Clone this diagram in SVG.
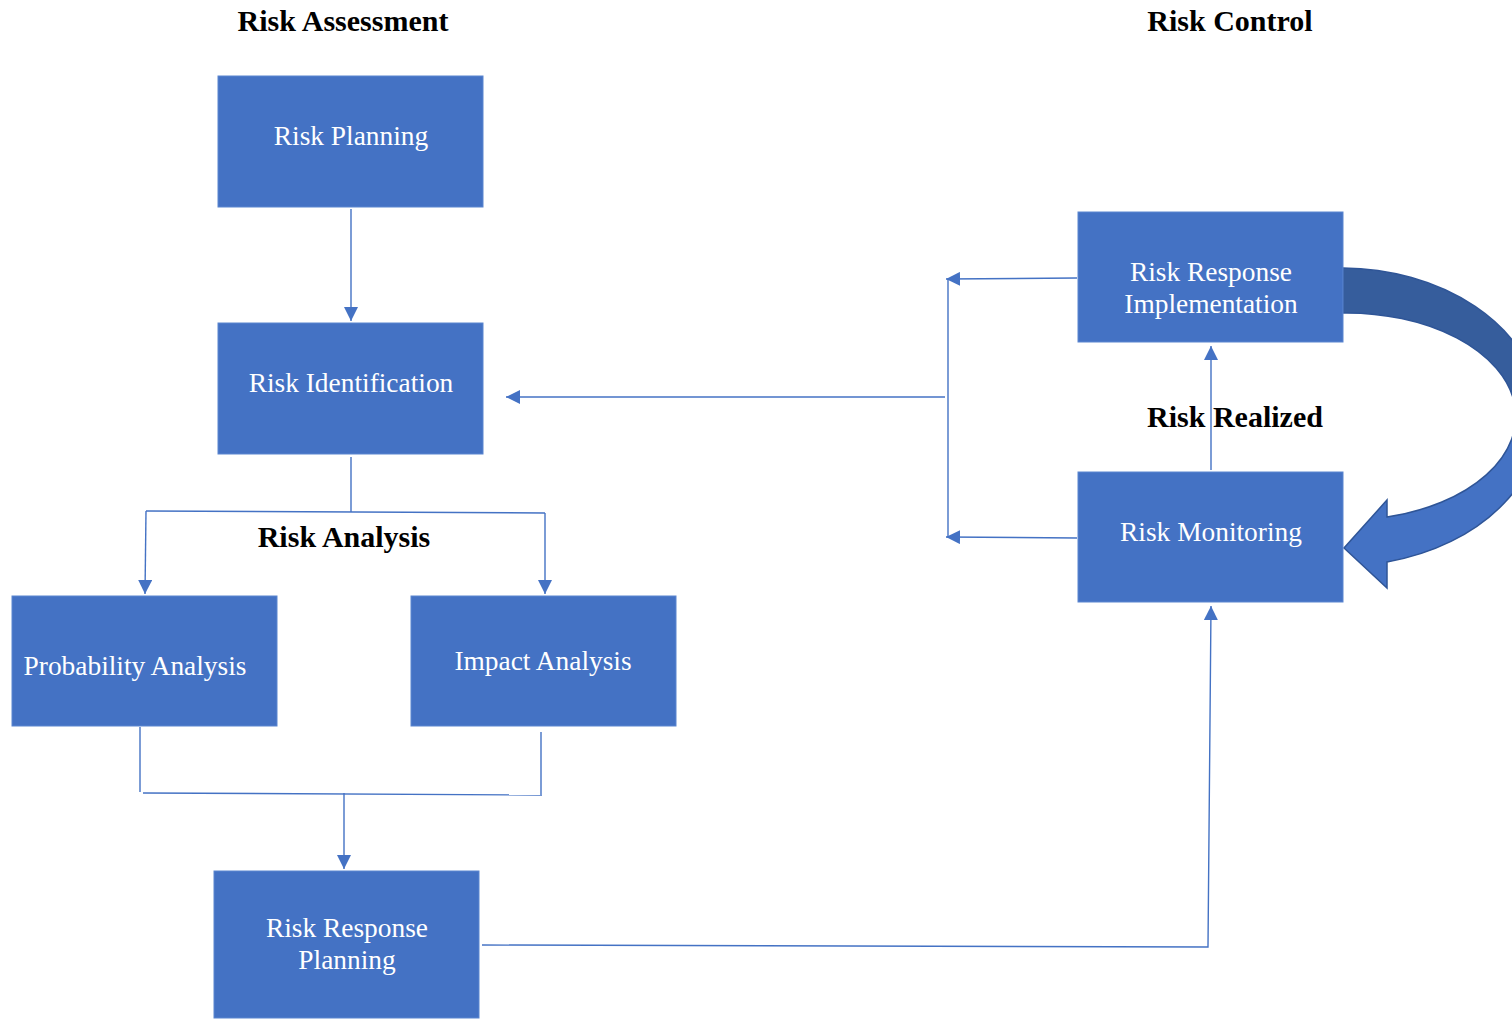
<svg xmlns="http://www.w3.org/2000/svg" width="1512" height="1019" viewBox="0 0 1512 1019">
<style>
.box{fill:#4472C4;stroke:#5B86D0;stroke-width:1}
.lbl{font-family:"Liberation Serif","Times New Roman",serif;font-size:27.4px;fill:#FFFFFF;text-anchor:middle}
.ttl{font-family:"Liberation Serif","Times New Roman",serif;font-size:30px;font-weight:bold;fill:#000000;text-anchor:middle}
.c{fill:none;stroke:#4472C4;stroke-width:1.4}
</style>
<defs>
<marker id="ah" viewBox="0 0 10 10" refX="10" refY="5" markerWidth="14" markerHeight="14" markerUnits="userSpaceOnUse" orient="auto">
<path d="M0,0 L10,5 L0,10 Z" fill="#4472C4"/>
</marker>
<linearGradient id="cg" gradientUnits="userSpaceOnUse" x1="0" y1="260" x2="0" y2="600">
<stop offset="0" stop-color="#365D9C"/>
<stop offset="0.462" stop-color="#365D9C"/>
<stop offset="0.462" stop-color="#4472C4"/>
<stop offset="1" stop-color="#4472C4"/>
</linearGradient>
</defs>
<text class="ttl" x="343" y="31">Risk Assessment</text>
<text class="ttl" x="1230" y="31">Risk Control</text>
<text class="ttl" x="344" y="547">Risk Analysis</text>
<text class="ttl" x="1235" y="427">Risk Realized</text>
<g id="connectors">
<path class="c" d="M351,209 L351,321" marker-end="url(#ah)"/>
<path class="c" d="M351,457 L351,512"/>
<path class="c" d="M146,511 L545,513"/>
<path class="c" d="M146,511 L145,594" marker-end="url(#ah)"/>
<path class="c" d="M545,513 L545,594" marker-end="url(#ah)"/>
<path class="c" d="M140,727 L140,792"/>
<path class="c" d="M541,732 L541,795"/>
<path class="c" d="M143,793 L542,795"/>
<path class="c" d="M344,793 L344,869" marker-end="url(#ah)"/>
<path class="c" d="M482,945 L1208,947 L1211,606" marker-end="url(#ah)"/>
<path class="c" d="M1211,470 L1211,346" marker-end="url(#ah)"/>
<path class="c" d="M1077,278 L946,279" marker-end="url(#ah)"/>
<path class="c" d="M1077,538 L946,537" marker-end="url(#ah)"/>
<path class="c" d="M948,279 L948,537"/>
<path class="c" d="M945,397 L506,397" marker-end="url(#ah)"/>
<path d="M1343,268 A200,149 0 0 1 1387,562 L1387,588 L1344,548 L1387,500 L1387,517 A169,103.5 0 0 0 1343,313 Z" fill="url(#cg)" stroke="#2F5597" stroke-width="1.5"/>
</g>
<g id="risk-planning"><rect class="box" x="218" y="76" width="265" height="131"/><text class="lbl" x="351" y="145">Risk Planning</text></g>
<g id="risk-identification"><rect class="box" x="218" y="323" width="265" height="131"/><text class="lbl" x="351" y="392">Risk Identification</text></g>
<g id="probability-analysis"><rect class="box" x="12" y="596" width="265" height="130"/><text class="lbl" x="135" y="675">Probability Analysis</text></g>
<g id="impact-analysis"><rect class="box" x="411" y="596" width="265" height="130"/><text class="lbl" x="543" y="670">Impact  Analysis</text></g>
<g id="risk-response-planning"><rect class="box" x="214" y="871" width="265" height="147"/><text class="lbl" x="347" y="937">Risk Response</text><text class="lbl" x="347" y="969">Planning</text></g>
<g id="risk-response-implementation"><rect class="box" x="1078" y="212" width="265" height="130"/><text class="lbl" x="1211" y="281">Risk Response</text><text class="lbl" x="1211" y="313">Implementation</text></g>
<g id="risk-monitoring"><rect class="box" x="1078" y="472" width="265" height="130"/><text class="lbl" x="1211" y="541">Risk Monitoring</text></g>
</svg>
